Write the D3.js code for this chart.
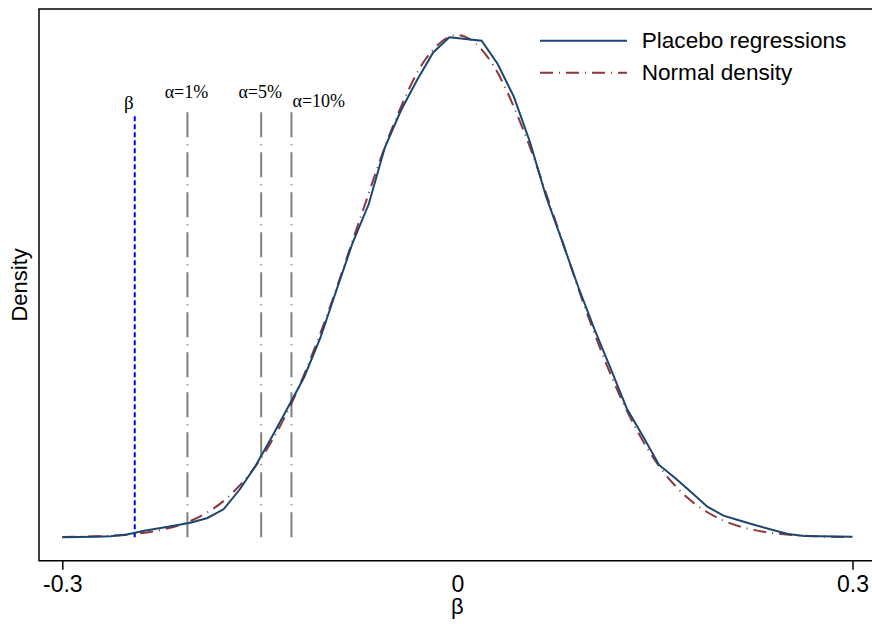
<!DOCTYPE html>
<html>
<head>
<meta charset="utf-8">
<script src="https://cdn.jsdelivr.net/npm/d3@7"></script>
<style>
  body { margin: 0; background: #fff; }
  svg { display: block; }
  text { font-family: "Liberation Sans", Arial, sans-serif; fill: #000; }
  .serif { font-family: "Liberation Serif", "Times New Roman", serif; }
</style>
</head>
<body>
<svg id="chart"></svg>
<script>
// kernel density of placebo coefficients (50 evaluation points)
var kdX = [-0.3000, -0.2878, -0.2755, -0.2633, -0.2510, -0.2388, -0.2265, -0.2143, -0.2020, -0.1898,
           -0.1776, -0.1653, -0.1531, -0.1408, -0.1286, -0.1163, -0.1041, -0.0918, -0.0796, -0.0673,
           -0.0551, -0.0429, -0.0306, -0.0184, -0.0061, 0.0061, 0.0184, 0.0306, 0.0429, 0.0551,
           0.0673, 0.0796, 0.0918, 0.1041, 0.1163, 0.1286, 0.1408, 0.1531, 0.1653, 0.1776,
           0.1898, 0.2020, 0.2143, 0.2265, 0.2388, 0.2510, 0.2633, 0.2755, 0.2878, 0.3000];
var kdY = [0.000, 0.003, 0.005, 0.010, 0.029, 0.065, 0.092, 0.121, 0.152, 0.198,
           0.287, 0.490, 0.737, 1.032, 1.333, 1.644, 2.044, 2.536, 3.018, 3.418,
           3.997, 4.377, 4.690, 4.972, 5.128, 5.111, 5.093, 4.854, 4.517, 4.054,
           3.496, 3.034, 2.567, 2.132, 1.733, 1.321, 1.039, 0.742, 0.608, 0.461,
           0.314, 0.222, 0.172, 0.124, 0.078, 0.034, 0.013, 0.010, 0.008, 0.006];

// normal density
var normX = [-0.300, -0.275, -0.250, -0.225, -0.200, -0.175, -0.150, -0.125, -0.100, -0.075, -0.050, -0.025, 0.000,
             0.025, 0.050, 0.075, 0.100, 0.125, 0.150, 0.175, 0.200, 0.225, 0.250, 0.275, 0.300];
var normY = [0.003, 0.010, 0.028, 0.076, 0.184, 0.402, 0.791, 1.402, 2.239, 3.223, 4.181, 4.887, 5.150,
             4.887, 4.181, 3.223, 2.239, 1.402, 0.791, 0.402, 0.184, 0.076, 0.028, 0.010, 0.003];

// reference lines
var betaHat = -0.245;
var critNames = ["α=1%", "α=5%", "α=10%"];
var critVals = [-0.205, -0.149, -0.126];

var xTicks = [-0.3, 0, 0.3];
var xTickLabels = ["-0.3", "0", "0.3"];
var legendNames = ["Placebo regressions", "Normal density"];

var width = 872, height = 624;
var plotLeft = 39, plotTop = 9, plotBottom = 560.7;

var svg = d3.select("#chart").attr("width", width).attr("height", height);

var x = d3.scaleLinear().domain([-0.3, 0.3]).range([62.3, 852.5]);
var y = d3.scaleLinear().domain([-0.24, 5.418]).range([plotBottom, plotTop]);

var blue = "#1a476f", red = "#90353b", grey = "#808080";
var redDash = "13,6,1,6";

// critical value lines
critVals.forEach(function(v, i) {
    svg.append("line")
        .attr("x1", x(v)).attr("x2", x(v))
        .attr("y1", y(0)).attr("y2", y(4.375))
        .attr("stroke", grey).attr("stroke-width", 2)
        .attr("stroke-dasharray", "25,7,1,7");
});
svg.selectAll(".crit").data(critVals).enter()
    .append("text")
    .attr("class", "serif")
    .attr("x", function(d, i) { return i == 2 ? x(d) + 1 : x(d) - 1; })
    .attr("y", function(d, i) { return i == 2 ? 106.7 : 98.3; })
    .attr("text-anchor", function(d, i) { return i == 2 ? "start" : "middle"; })
    .style("font-size", "18px")
    .text(function(d, i) { return critNames[i]; });

// estimated beta
svg.append("line")
    .attr("x1", x(betaHat)).attr("x2", x(betaHat))
    .attr("y1", y(0)).attr("y2", y(4.33))
    .attr("stroke", "#0000ff").attr("stroke-width", 2)
    .attr("stroke-dasharray", "5,3");
svg.append("text")
    .attr("class", "serif")
    .attr("x", x(betaHat) - 1).attr("y", 109)
    .attr("text-anchor", "end")
    .style("font-size", "19px")
    .text("β");

// curves
var kdLine = d3.line()
    .x(function(d, i) { return x(kdX[i]); })
    .y(function(d) { return y(d); });
var normLine = d3.line()
    .x(function(d, i) { return x(normX[i]); })
    .y(function(d) { return y(d); })
    .curve(d3.curveMonotoneX);

svg.append("path").attr("d", normLine(normY))
    .attr("fill", "none").attr("stroke", red).attr("stroke-width", 2)
    .attr("stroke-dasharray", redDash);
svg.append("path").attr("d", kdLine(kdY))
    .attr("fill", "none").attr("stroke", blue).attr("stroke-width", 2);

// frame
svg.append("path")
    .attr("d", "M" + (width + 2) + "," + plotTop + "H" + plotLeft + "V" + plotBottom + "H" + (width + 2))
    .attr("fill", "none").attr("stroke", "#000").attr("stroke-width", 1.5);

// x axis
var xAxis = d3.axisBottom(x)
    .tickValues(xTicks)
    .tickSize(9)
    .tickPadding(5.5)
    .tickFormat(function(d, i) { return xTickLabels[i]; });
var gx = svg.append("g").attr("transform", "translate(0," + plotBottom + ")").call(xAxis);
gx.select(".domain").remove();
gx.selectAll(".tick line").attr("stroke", "#000").attr("stroke-width", 1.5)
    .attr("display", function(d) { return d == 0 ? "none" : null; });
gx.selectAll(".tick text")
    .style("font-family", "Liberation Sans, Arial, sans-serif")
    .style("font-size", "23px").attr("fill", "#000");

// axis titles
svg.append("text")
    .attr("x", x(0)).attr("y", 614)
    .attr("text-anchor", "middle")
    .style("font-size", "22px")
    .text("β");
svg.append("text")
    .attr("transform", "translate(27," + ((plotTop + plotBottom) / 2) + ") rotate(-90)")
    .attr("text-anchor", "middle")
    .style("font-size", "22px")
    .text("Density");

// legend
var legend = svg.append("g");
legendNames.forEach(function(name, i) {
    var ly = 40.7 + i * 32;
    legend.append("line")
        .attr("x1", 540).attr("x2", 627)
        .attr("y1", ly).attr("y2", ly)
        .attr("stroke", i == 0 ? blue : red).attr("stroke-width", 2)
        .attr("stroke-dasharray", i == 0 ? null : redDash);
    legend.append("text")
        .attr("x", 641.7).attr("y", ly + 7.5)
        .style("font-size", "22.6px")
        .text(name);
});
</script>
</body>
</html>
